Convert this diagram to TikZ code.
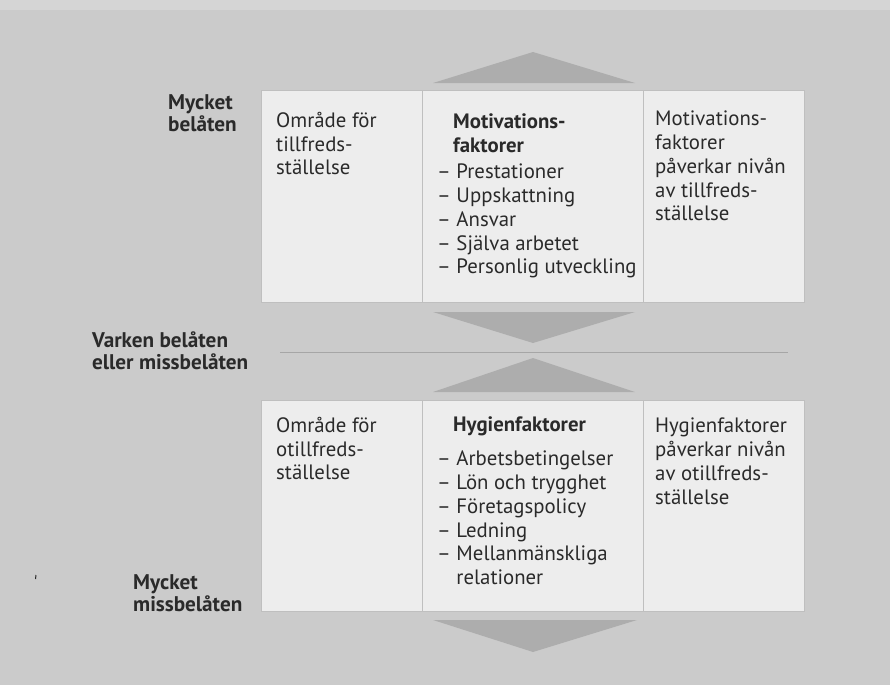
\documentclass[tikz,border=0pt]{standalone}
\usepackage{fontspec}
\setmainfont{PT Sans}
\usepackage{tikz}
\usetikzlibrary{calc}

\definecolor{bggray}{HTML}{CBCBCB}
\definecolor{boxgray}{HTML}{EDEDED}
\definecolor{trigray}{HTML}{ADADAD}
\definecolor{txtgray}{HTML}{2A2A2A}

\begin{document}
\begin{tikzpicture}[x=1pt,y=-1pt,
  lbl/.style={anchor=north west,inner sep=0pt,align=left,text=txtgray,
    font=\fontsize{20.8}{23.7}\selectfont},
  side/.style={lbl,font=\fontsize{21.2}{22}\selectfont\bfseries},
  cell/.style={fill=boxgray,draw=black!25,line width=0.6pt},
  tri/.style={fill=trigray}]
\useasboundingbox (0,0) rectangle (890,685);
\fill[bggray] (0,0) rectangle (890,685);
\fill[bggray!80!white] (0,0) rectangle (890,10);
% pilar
\fill[tri] (433,83) -- (635,83) -- (533,52) -- cycle;
\fill[tri] (433,312) -- (635,312) -- (533,343) -- cycle;
\fill[tri] (433,392) -- (635,392) -- (533,358) -- cycle;
\fill[tri] (433,620) -- (637,620) -- (533,652) -- cycle;
\draw[black!35,line width=0.8pt] (280,352) -- (788,352);
% rutor
\draw[cell] (261,90) rectangle (804,302);
\draw[black!25] (422,90) -- (422,302);
\draw[black!25] (643,90) -- (643,302);
\draw[cell] (261,400) rectangle (804,611);
\draw[black!25] (422,400) -- (422,611);
\draw[black!25] (643,400) -- (643,611);
% skala
\node[side] (hogst) at (168,94) {Mycket\\belåten};
\node[side] (mitt) at (92,332) {Varken belåten\\eller missbelåten};
\node[side] (lagst) at (133,574) {Mycket\\missbelåten};
\draw[txtgray,line width=1pt] (36,575) -- (35.5,579);
% övre raden
\node[lbl] (omrA) at (276,112) {Område för\\tillfreds-\\ställelse};
\node[lbl,font=\fontsize{20.8}{23.7}\selectfont\bfseries] (motiv) at (453,114) {Motivations-\\faktorer};
\node[lbl] (motivlist) at (437,164) {– Prestationer\\– Uppskattning\\– Ansvar\\– Själva arbetet\\– Personlig utveckling};
\node[lbl] (motivtxt) at (655,111) {Motivations-\\faktorer\\påverkar nivån\\av tillfreds-\\ställelse};
% nedre raden
\node[lbl] (omrB) at (276,417) {Område för\\otillfreds-\\ställelse};
\node[lbl,font=\fontsize{20.8}{23.7}\selectfont\bfseries] (hyg) at (453,417) {Hygienfaktorer};
\node[lbl] (hyglist) at (437,451) {– Arbetsbetingelser\\– Lön och trygghet\\– Företagspolicy\\– Ledning\\– Mellanmänskliga\\\hphantom{– }relationer};
\node[lbl] (hygtxt) at (655,418) {Hygienfaktorer\\påverkar nivån\\av otillfreds-\\ställelse};
\end{tikzpicture}
\end{document}
